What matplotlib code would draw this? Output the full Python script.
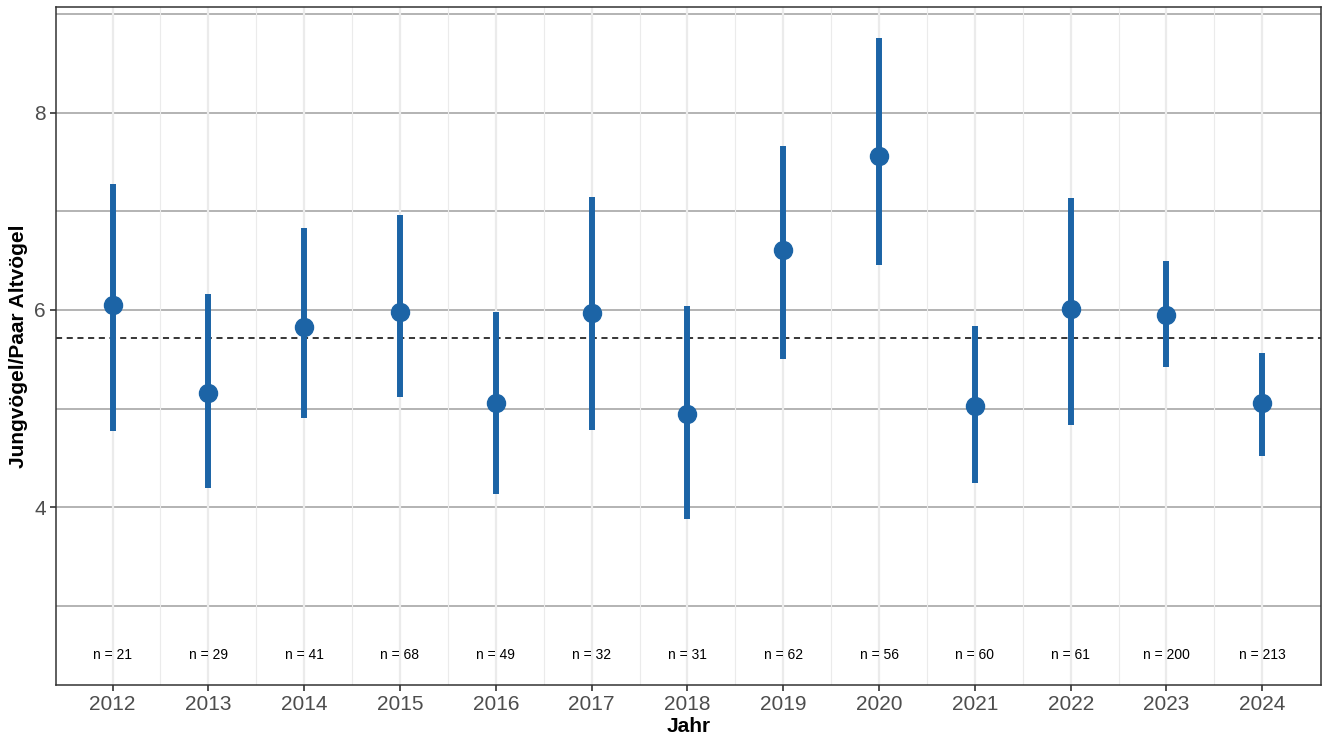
import matplotlib
matplotlib.use("Agg")
import matplotlib.pyplot as plt
import numpy as np

plt.rcParams['font.family'] = ['Liberation Sans', 'DejaVu Sans']

years = [2012, 2013, 2014, 2015, 2016, 2017, 2018, 2019, 2020, 2021, 2022, 2023, 2024]
mean = [6.05, 5.16, 5.83, 5.98, 5.06, 5.97, 4.94, 6.61, 7.56, 5.03, 6.01, 5.95, 5.06]
lower = [4.77, 4.19, 4.90, 5.12, 4.13, 4.78, 3.88, 5.50, 6.46, 4.24, 4.83, 5.42, 4.52]
upper = [7.28, 6.16, 6.83, 6.96, 5.98, 7.15, 6.04, 7.66, 8.76, 5.84, 7.14, 6.50, 5.56]
n_obs = [21, 29, 41, 68, 49, 32, 31, 62, 56, 60, 61, 200, 213]
overall_mean = 5.72

col = '#1c64a6'

fig = plt.figure(figsize=(13.22, 7.35), dpi=100)
ax = fig.add_axes([0.0424, 0.068, 0.9566, 0.9225])

x = np.arange(len(years))

# grid like ggplot theme_bw, with darker horizontal lines
for v in np.arange(3, 9.5, 1):
    ax.axhline(v, color='#b3b3b3', lw=1.4, zorder=0)
for xi in x:
    ax.axvline(xi, color='#ebebeb', lw=1.6, zorder=0)
for xi in x[:-1] + 0.5:
    ax.axvline(xi, color='#ebebeb', lw=0.8, zorder=0)

ax.axhline(overall_mean, color='black', lw=1.1, ls=(0, (4, 3)), zorder=1)

ax.vlines(x, lower, upper, color=col, lw=4.3, zorder=2)
ax.plot(x, mean, 'o', color=col, ms=13, zorder=3)

for xi, n in zip(x, n_obs):
    ax.text(xi, 2.5, f"n = {n}", ha='center', va='center', fontsize=10)

ax.set_xlim(-0.59, len(years) - 1 + 0.61)
ax.set_ylim(2.193, 9.076)
ax.set_xticks(x, [str(y) for y in years])
ax.set_yticks([4, 6, 8])

ax.tick_params(axis='both', colors='#333333', labelcolor='#4d4d4d', labelsize=15, length=4, width=1.2)
for s in ax.spines.values():
    s.set_color('#333333')
    s.set_linewidth(1.1)

ax.set_xlabel("Jahr", fontsize=15, fontweight='bold', labelpad=2)
ax.set_ylabel("Jungvögel/Paar Altvögel", fontsize=15, fontweight='bold', labelpad=4)

fig.savefig("out.png", dpi=100)
